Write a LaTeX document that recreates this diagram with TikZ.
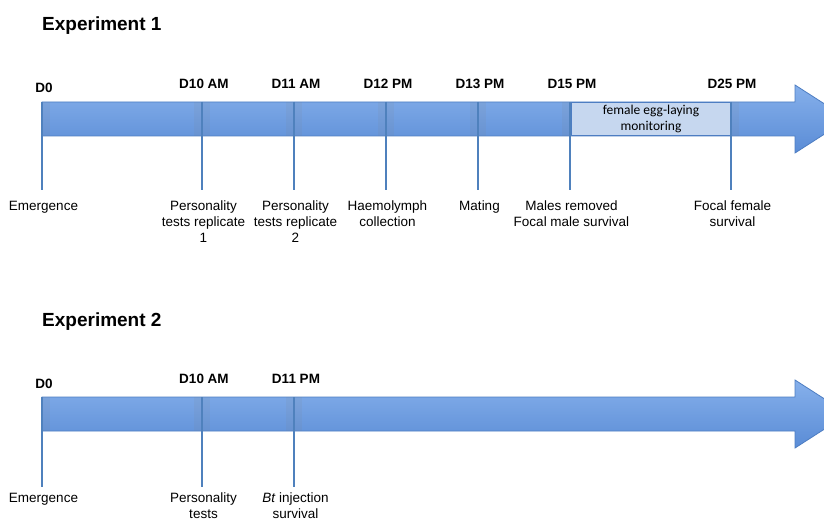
\documentclass[tikz,border=0pt]{standalone}
\usepackage{fontspec}
\setmainfont{Liberation Sans}
\newfontfamily\eggfont{Carlito}
\usepackage{tikz}
\usetikzlibrary{positioning}
\definecolor{barTop}{HTML}{86B0EB}
\definecolor{barBot}{HTML}{5A8CD6}
\definecolor{barEdge}{HTML}{4D7DC2}
\definecolor{tickBlue}{HTML}{4F81BD}
\definecolor{eggFill}{HTML}{C6D7EF}
\tikzset{
  tline/.style ={draw=barEdge, line width=0.8pt, top color=barTop, bottom color=barBot},
  tband/.style ={fill=black!50, opacity=0.1},
  tick/.style  ={draw=tickBlue, line width=2.6pt},
  dlab/.style  ={anchor=base, inner sep=0pt, font=\fontsize{13.5}{16}\selectfont\bfseries},
  evt/.style   ={inner sep=0pt, align=center, xshift=1.5pt,
                 font=\fontsize{13.5}{16}\selectfont},
  ttl/.style   ={anchor=base west, inner sep=0pt, font=\fontsize{19}{22}\selectfont\bfseries},
  egg/.style   ={draw=barEdge, line width=0.8pt, fill=eggFill, align=center, inner sep=0pt,
                 minimum width=160pt, minimum height=33pt,
                 font=\eggfont\fontsize{13.5}{16}\selectfont},
}

\begin{document}
\begin{tikzpicture}[x=1pt, y=-1pt]
\clip (0,0) rectangle (824,521);
% Experiment 1
\node[ttl] (title1) at (42,31) {Experiment 1};
\path[tline] (42,102) -- (795,102) -- (795,85) -- (848,119) -- (795,153) -- (795,136)
  -- (42,136) -- cycle;
\foreach \x in {202,294,386,478,570,731}
  \fill[tband] (\x-8,102) rectangle (\x+8,136);
\fill[tband] (42,102) rectangle (50,136);
\node[egg] (egg) at (651,118.5) {female egg-laying\\monitoring};

\coordinate (t0) at (42,102);   \coordinate (b0) at (42,190);
\coordinate (t10) at (202,102); \coordinate (b10) at (202,190);
\coordinate (t11) at (294,102); \coordinate (b11) at (294,190);
\coordinate (t12) at (386,102); \coordinate (b12) at (386,190);
\coordinate (t13) at (478,102); \coordinate (b13) at (478,190);
\coordinate (t15) at (570,102); \coordinate (b15) at (570,190);
\coordinate (t25) at (731,102); \coordinate (b25) at (731,190);

\node[dlab] (d0) at (44,93) {D0};
\node[dlab] (d10) at (204,88.5) {D10 AM};
\node[dlab] (d11) at (296,88.5) {D11 AM};
\node[dlab] (d12) at (388,88.5) {D12 PM};
\node[dlab] (d13) at (480,88.5) {D13 PM};
\node[dlab] (d15) at (572,88.5) {D15 PM};
\node[dlab] (d25) at (732,88.5) {D25 PM};

\node[evt, below=11pt of b0] (ev0) {Emergence};
\node[evt, below=11pt of b10] (ev10) {Personality\\tests replicate\\1};
\node[evt, below=11pt of b11] (ev11) {Personality\\tests replicate\\2};
\node[evt, below=11pt of b12] (ev12) {Haemolymph\\collection};
\node[evt, below=11pt of b13] (ev13) {Mating};
\node[evt, below=11pt of b15] (ev15) {Males removed\\Focal male survival};
\node[evt, below=11pt of b25] (ev25) {Focal female\\survival};

\draw[tick] (t0) -- (b0);
\draw[tick] (t10) -- (b10);
\draw[tick] (t11) -- (b11);
\draw[tick] (t12) -- (b12);
\draw[tick] (t13) -- (b13);
\draw[tick] (t15) -- (b15);
\draw[tick] (t25) -- (b25);

% Experiment 2
\begin{scope}[shift={(0,295)}]
\node[ttl] (title2) at (42,31) {Experiment 2};
\path[tline] (42,102) -- (795,102) -- (795,85) -- (848,119) -- (795,153) -- (795,136)
  -- (42,136) -- cycle;
\foreach \x in {202,294}
  \fill[tband] (\x-8,102) rectangle (\x+8,136);
\fill[tband] (42,102) rectangle (50,136);

\coordinate (u0) at (42,102);   \coordinate (v0) at (42,192);
\coordinate (u10) at (202,102); \coordinate (v10) at (202,192);
\coordinate (u11) at (294,102); \coordinate (v11) at (294,192);

\node[dlab] (e0) at (44,93) {D0};
\node[dlab] (e10) at (204,88.5) {D10 AM};
\node[dlab] (e11) at (296,88.5) {D11 PM};

\node[evt, below=6pt of v0] (fv0) {Emergence};
\node[evt, below=6pt of v10] (fv10) {Personality\\tests};
\node[evt, below=6pt of v11] (fv11) {\textit{Bt} injection\\survival};

\draw[tick] (u0) -- (v0);
\draw[tick] (u10) -- (v10);
\draw[tick] (u11) -- (v11);
\end{scope}
\end{tikzpicture}
\end{document}
